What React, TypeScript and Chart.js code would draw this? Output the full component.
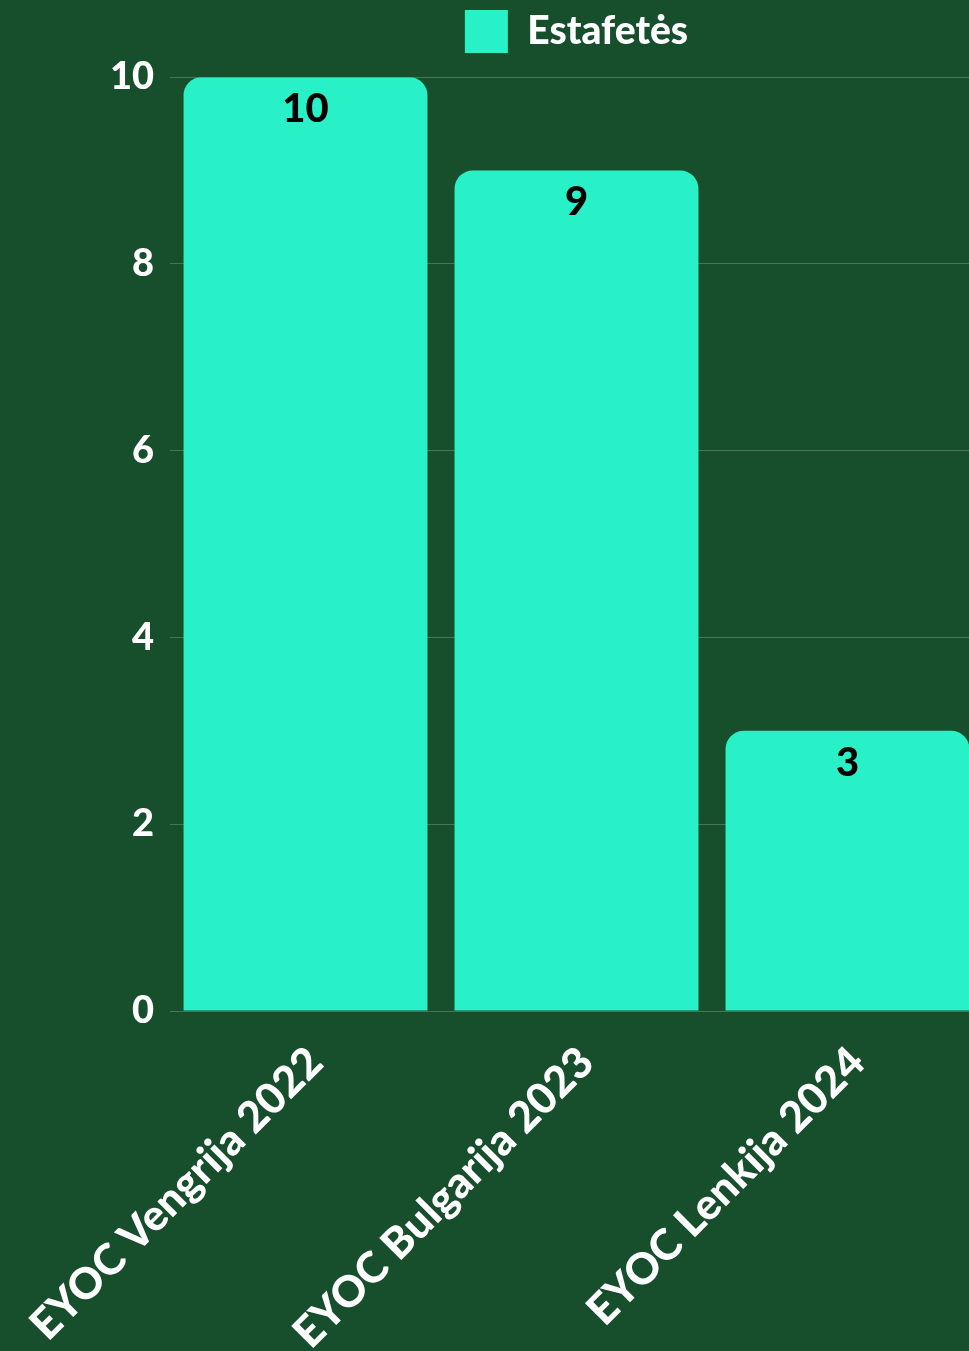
import React, { useEffect, useRef } from "react";
import { Chart, registerables } from "chart.js";

Chart.register(...registerables);

const categories = ["EYOC Vengrija 2022", "EYOC Bulgarija 2023", "EYOC Lenkija 2024"];
const values = [10, 9, 3];
const seriesLabel = "Estafetės";
const yMin = 0;
const yMax = 10;
const yStep = 2;

const BG = "#174E2C";
const BAR = "#28F1C8";
const FONT = "Lato, 'Open Sans', sans-serif";

const valueLabels = {
  id: "valueLabels",
  afterDatasetsDraw(chart: any) {
    const ctx = chart.ctx;
    const meta = chart.getDatasetMeta(0);
    ctx.save();
    ctx.fillStyle = "#000";
    ctx.font = `900 40px ${FONT}`;
    ctx.textAlign = "center";
    ctx.textBaseline = "middle";
    meta.data.forEach((bar: any, i: number) => {
      ctx.fillText(String(chart.data.datasets[0].data[i]), bar.x, bar.y + 32);
    });
    ctx.restore();
  },
};

export default function App() {
  const ref = useRef<HTMLCanvasElement>(null);
  useEffect(() => {
    document.body.style.margin = "0";
    document.body.style.background = BG;
    const chart = new Chart(ref.current!, {
      type: "bar",
      data: {
        labels: categories,
        datasets: [
          {
            label: seriesLabel,
            data: values,
            backgroundColor: BAR,
            borderWidth: 0,
            borderRadius: { topLeft: 18, topRight: 18, bottomLeft: 0, bottomRight: 0 },
            borderSkipped: "bottom",
            barPercentage: 0.9,
            categoryPercentage: 1,
          },
        ],
      },
      options: {
        responsive: false,
        animation: false,
        devicePixelRatio: 1,
        layout: { padding: 0 },
        plugins: {
          tooltip: { enabled: false },
          legend: {
            display: true,
            position: "top",
            fullSize: false,
            labels: {
              color: "#fff",
              boxWidth: 43,
              boxHeight: 43,
              padding: 10,
              font: { family: FONT, size: 39, weight: "900" },
            },
          },
          subtitle: {
            display: true,
            text: " ",
            position: "top",
            weight: 500,
            fullSize: false,
            font: { size: 1 },
            padding: { top: 6, bottom: 7 },
          } as any,
        },
        scales: {
          x: {
            grid: { display: false },
            border: { display: false },
            ticks: {
              color: "#fff",
              maxRotation: 45,
              minRotation: 45,
              padding: 18,
              labelOffset: 10,
              font: { family: FONT, size: 43, weight: "900" },
            },
            afterFit(scale: any) {
              scale.height = 340;
              scale.paddingLeft = 0;
              scale.paddingRight = 0;
            },
          },
          y: {
            min: yMin,
            max: yMax,
            ticks: {
              stepSize: yStep,
              color: "#fff",
              padding: 16,
              font: { family: FONT, size: 38, weight: "900" },
            },
            grid: { color: "rgba(255,255,255,0.22)", lineWidth: 1, drawTicks: false },
            border: { display: false },
            afterFit(scale: any) {
              scale.width = 170;
            },
          },
        },
      },
      plugins: [valueLabels],
    });
    return () => chart.destroy();
  }, []);
  return (
    <div style={{ width: 969, height: 1351, overflow: "hidden", background: BG, position: "relative" }}>
      <canvas ref={ref} width={983} height={1351} style={{ display: "block" }} />
    </div>
  );
}
